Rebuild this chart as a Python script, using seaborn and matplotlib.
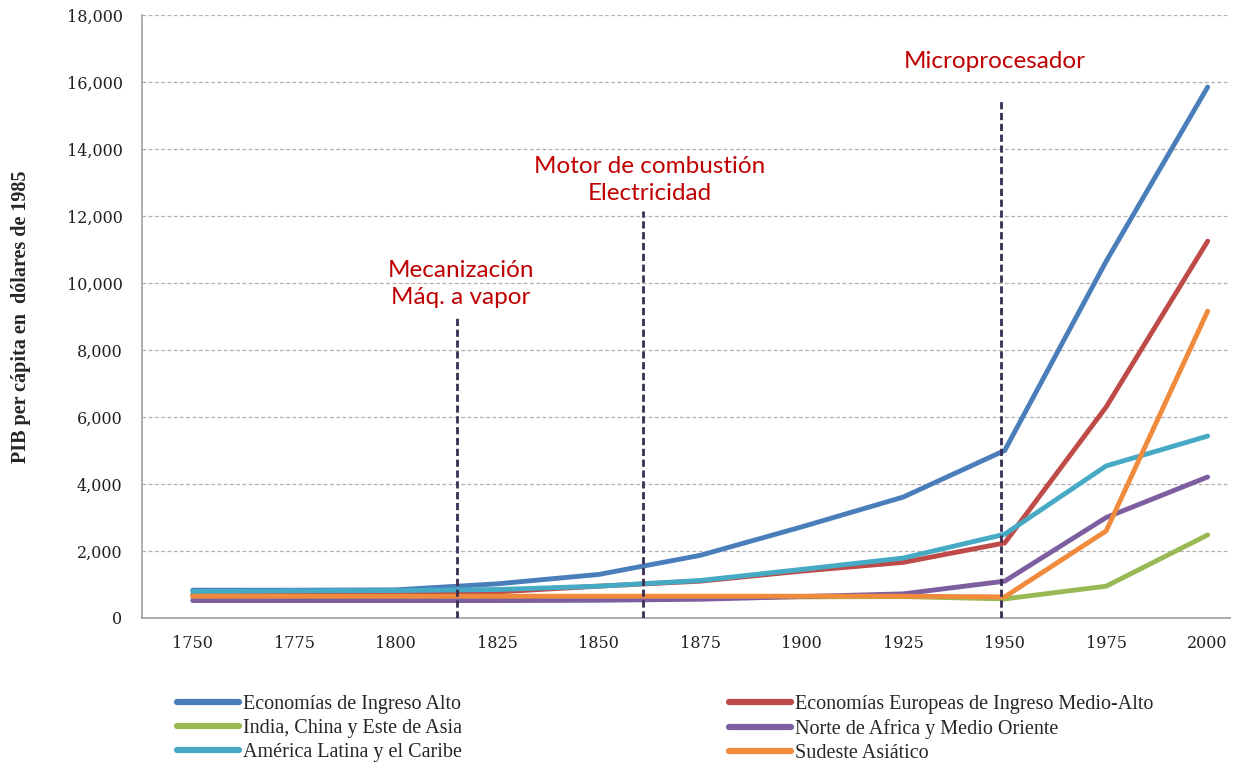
import pandas as pd
import seaborn as sns
import matplotlib.pyplot as plt
from matplotlib.lines import Line2D
from matplotlib.ticker import FuncFormatter, MultipleLocator

# --- data ---
years = [1750, 1775, 1800, 1825, 1850, 1875, 1900, 1925, 1950, 1975, 2000]

alto = [830, 830, 840, 1020, 1300, 1870, 2720, 3610, 5000, 10650, 15850]
europeas = [700, 700, 720, 780, 950, 1100, 1400, 1660, 2240, 6300, 11250]
india = [620, 620, 620, 620, 620, 620, 630, 640, 570, 950, 2480]
norte = [520, 520, 520, 520, 530, 560, 640, 720, 1100, 3000, 4210]
america = [790, 810, 820, 850, 950, 1120, 1450, 1790, 2500, 4540, 5430]
sudeste = [650, 650, 650, 650, 650, 650, 650, 650, 630, 2600, 9160]

series_names = [
    "Economías de Ingreso Alto",
    "Economías Europeas de Ingreso Medio-Alto",
    "India, China y Este de Asia",
    "Norte de Africa y Medio Oriente",
    "América Latina y el Caribe",
    "Sudeste Asiático",
]
series_values = [alto, europeas, india, norte, america, sudeste]
colors = ["#4A7EBB", "#BE4B48", "#98B954", "#7D5FA0", "#46AAC5", "#F08A3C"]

# milestones (vertical dashed lines)
event_years = [1815, 1861, 1949]
event_tops = [9000, 12150, 15500]
event_labels = ["Mecanización\nMáq. a vapor", "Motor de combustión\nElectricidad", "Microprocesador"]
event_label_y = [9970, 13075, 16620]
event_label_x = [1816, 1862.5, 1947.5]

df = pd.DataFrame({
    "year": years * len(series_names),
    "serie": [n for n in series_names for _ in years],
    "pib": [v for vals in series_values for v in vals],
})

sns.set_style("white")
fig = plt.figure(figsize=(12.35, 7.68), dpi=100)
ax = fig.add_axes([142 / 1235, 150 / 768, 1088 / 1235, 603 / 768])

sns.lineplot(data=df, x="year", y="pib", hue="serie", hue_order=series_names,
             palette=colors, linewidth=3.5, sort=False, legend=False, ax=ax,
             solid_capstyle="round")

ax.vlines(event_years, 0, event_tops, colors="#3A2D52", linewidth=2.0,
          linestyles=(0, (2.6, 1.3)), zorder=5)
for x, y, t in zip(event_label_x, event_label_y, event_labels):
    ax.text(x, y, t, color="#C00000", fontsize=17.5, family="Lato",
            ha="center", va="center", linespacing=1.3)

ax.set_xlim(1737.5, 2005.5)
ax.set_ylim(0, 18000)
ax.yaxis.set_major_locator(MultipleLocator(2000))
ax.yaxis.set_major_formatter(FuncFormatter(lambda v, p: f"{int(v):,}"))
ax.set_xticks(years)
ax.set_xticks([1737.5 + 25 * k for k in range(11)], minor=True)
ax.tick_params(axis="x", which="major", length=0, pad=12)
ax.tick_params(axis="x", which="minor", length=5, color="#A0A0A0", width=1)
ax.tick_params(axis="y", length=6, color="#A0A0A0", width=1, pad=8)
for lab in ax.get_xticklabels() + ax.get_yticklabels():
    lab.set_family("DejaVu Serif")
    lab.set_fontsize(11.5)
    lab.set_color("#202020")

ax.grid(axis="y", color="#B0B0B0", linestyle=(0, (3, 2)), linewidth=0.9)
ax.grid(axis="x", visible=False)
for s in ["top", "right"]:
    ax.spines[s].set_visible(False)
for s in ["left", "bottom"]:
    ax.spines[s].set_color("#A0A0A0")
    ax.spines[s].set_linewidth(1.2)

ax.set_xlabel("")
ax.set_ylabel("PIB per cápita en  dólares de 1985", family="Liberation Serif",
              fontweight="bold", fontsize=14.5)
ax.yaxis.set_label_coords(-0.102, 0.5)

handles = [Line2D([], [], color=c, linewidth=4.5, solid_capstyle="round") for c in colors]
leg_kw = dict(frameon=False, handlelength=3.1, handletextpad=0.2, labelspacing=0.25,
              prop={"family": "Liberation Serif", "size": 14.5}, borderpad=0, borderaxespad=0)
fig.legend([handles[0], handles[2], handles[4]],
           [series_names[0], series_names[2], series_names[4]],
           loc="upper left", bbox_to_anchor=(177 / 1235, 1 - 695 / 768), **leg_kw)
fig.legend([handles[1], handles[3], handles[5]],
           [series_names[1], series_names[3], series_names[5]],
           loc="upper left", bbox_to_anchor=(729 / 1235, 1 - 695 / 768), **leg_kw)

fig.savefig("out.png", dpi=100)
